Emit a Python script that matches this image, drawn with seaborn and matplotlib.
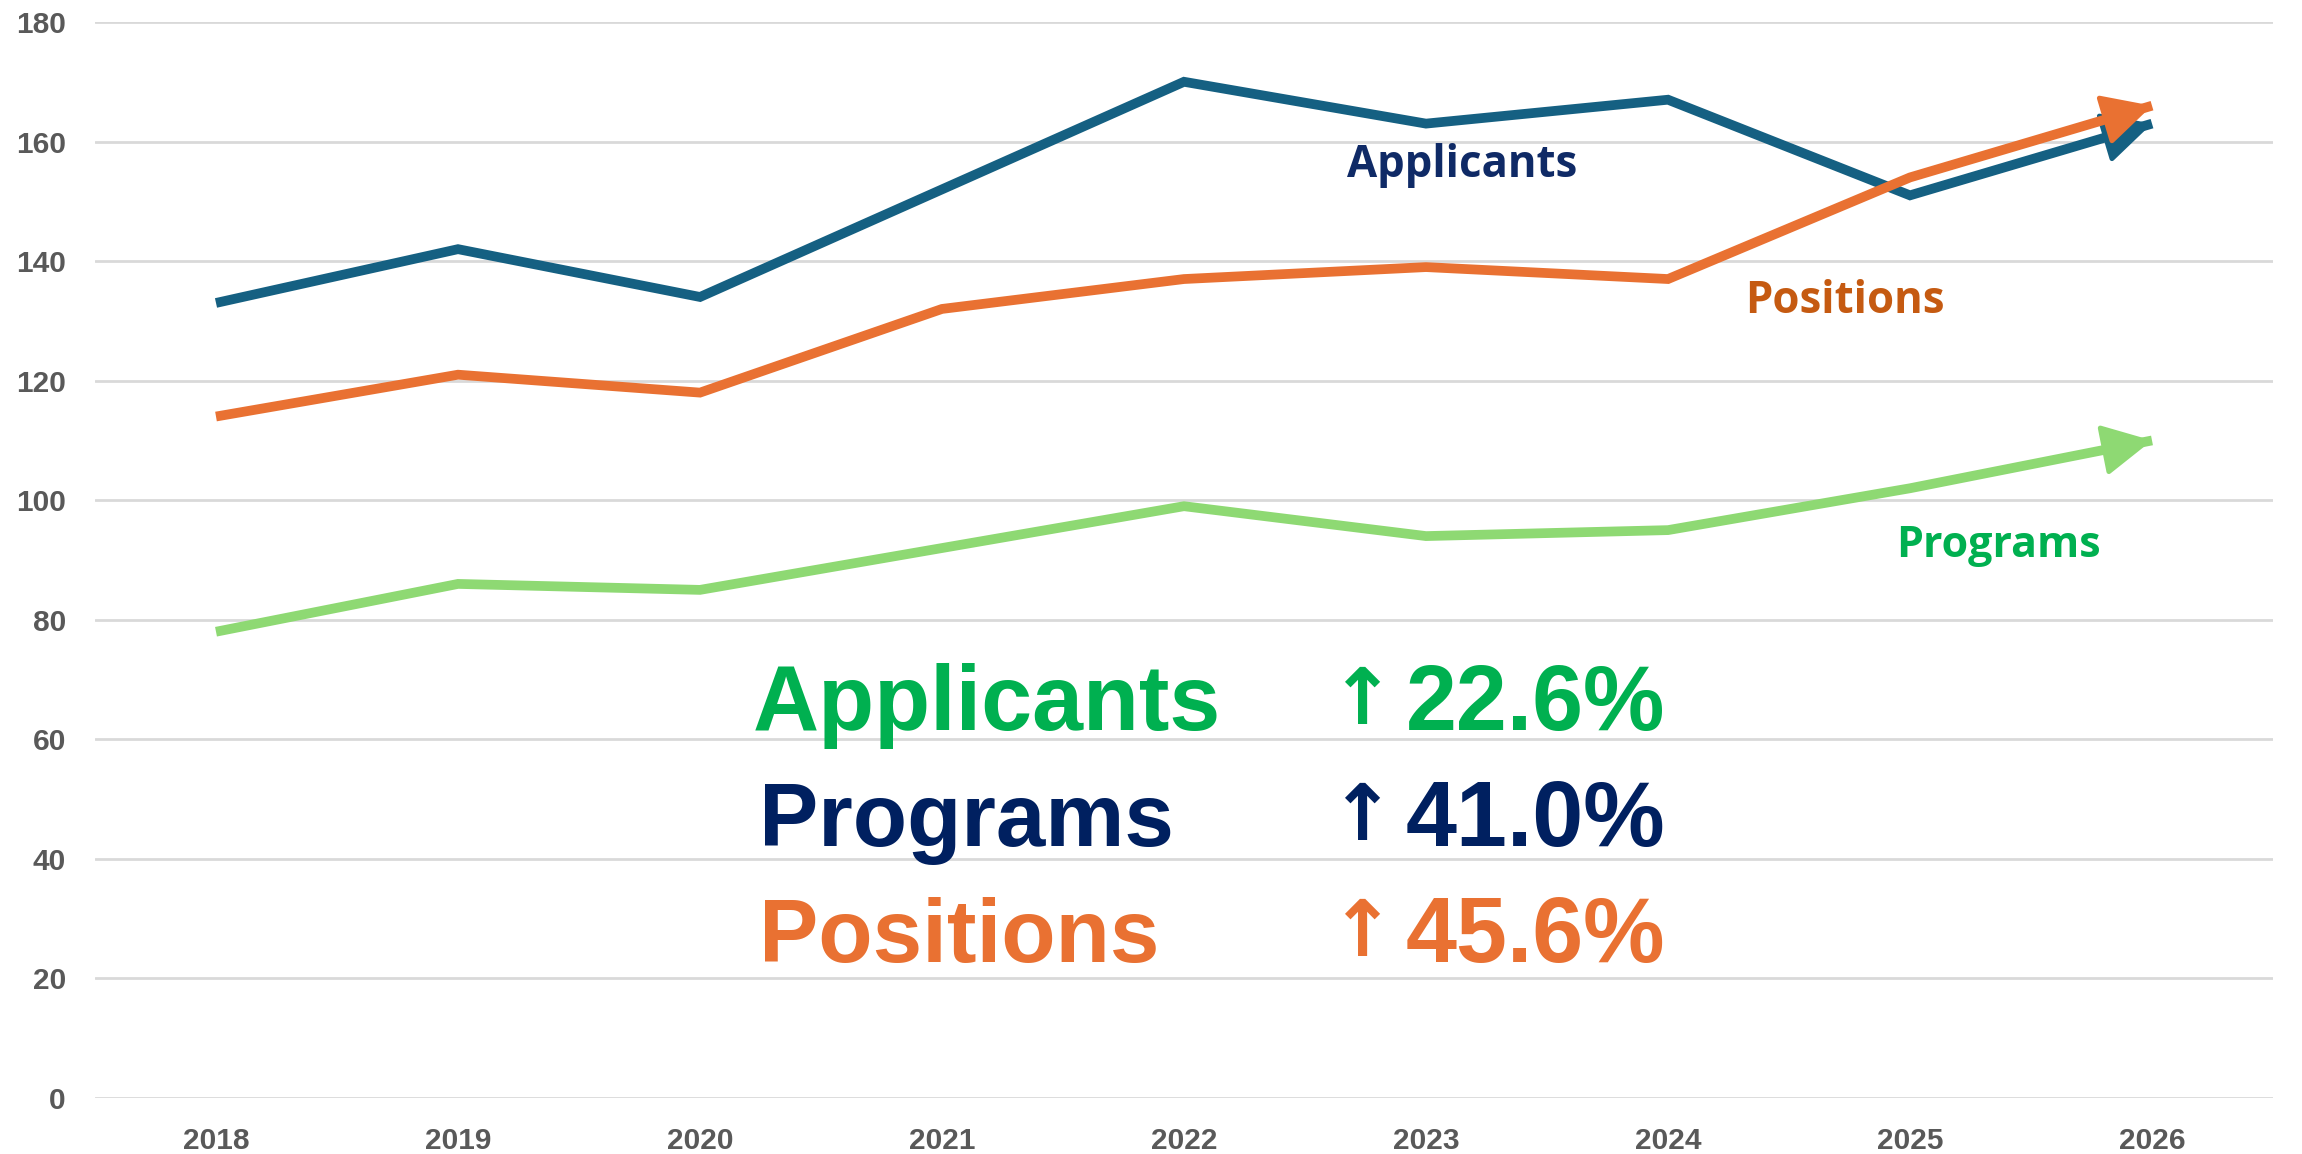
import matplotlib
matplotlib.use("Agg")
import matplotlib.pyplot as plt
import seaborn as sns
import pandas as pd

years = [2018, 2019, 2020, 2021, 2022, 2023, 2024, 2025, 2026]
applicants = [133, 142, 134, 152, 170, 163, 167, 151, 163]
positions = [114, 121, 118, 132, 137, 139, 137, 154, 166]
programs = [78, 86, 85, 92, 99, 94, 95, 102, 110]
y_ticks = [0, 20, 40, 60, 80, 100, 120, 140, 160, 180]

summary_names = ["Applicants", "Programs", "Positions"]
summary_pcts = ["22.6%", "41.0%", "45.6%"]

sns.set_theme(style="white")
plt.rcParams['font.family'] = ['Liberation Sans', 'DejaVu Sans']

c_app = "#156082"
c_pos = "#E97132"
c_prog = "#8ED973"

df = pd.DataFrame({"year": years, "Applicants": applicants,
                   "Positions": positions, "Programs": programs})
long = df.melt(id_vars="year", var_name="series", value_name="value")

fig = plt.figure(figsize=(23.02, 11.54), dpi=100)
ax = fig.add_axes([95 / 2302, 56 / 1154, (2273 - 95) / 2302, (1098 - 22) / 1154])

lw = 7
z = 2
for name, col in [("Programs", c_prog), ("Applicants", c_app), ("Positions", c_pos)]:
    sub = long[long["series"] == name]
    sns.lineplot(data=sub, x="year", y="value", color=col, lw=lw, ax=ax,
                 legend=False, solid_capstyle="butt", solid_joinstyle="miter",
                 zorder=z)
    vals = sub["value"].tolist()
    x0, x1 = years[-2], years[-1]
    y0, y1 = vals[-2], vals[-1]
    t = 0.6
    ax.annotate("", xy=(x1, y1), xytext=(x0 + t * (x1 - x0), y0 + t * (y1 - y0)),
                arrowprops=dict(arrowstyle="-|>,head_length=1.55,head_width=0.8",
                                color=col, lw=3.5, mutation_scale=20,
                                shrinkA=0, shrinkB=0, joinstyle="round",
                                capstyle="round"), zorder=z + 0.5)
    z += 1

ax.set_xlim(2017.5, 2026.5)
ax.set_ylim(0, 180)
ax.set_xticks(years)
ax.set_xticklabels([str(y) for y in years])
ax.set_yticks(y_ticks)
ax.set_xlabel("")
ax.set_ylabel("")
ax.grid(axis="y", color="#D9D9D9", lw=2)
ax.grid(axis="x", visible=False)
ax.set_axisbelow(True)
for s in ax.spines.values():
    s.set_visible(False)
ax.tick_params(axis="both", length=0, labelsize=21.5, labelcolor="#595959")
ax.tick_params(axis="y", pad=21)
ax.tick_params(axis="x", pad=21)
for lab in ax.get_xticklabels() + ax.get_yticklabels():
    lab.set_fontweight("bold")

# in-chart series labels
lbl_font = ['Open Sans', 'DejaVu Sans']
fig.text(1462 / 2302, 1 - 177 / 1154, "Applicants", color="#0F2A66", fontsize=31.5,
         fontweight="bold", ha="center", va="baseline", family=lbl_font)
fig.text(1845 / 2302, 1 - 313 / 1154, "Positions", color="#C55A11", fontsize=31.5,
         fontweight="bold", ha="center", va="baseline", family=lbl_font)
fig.text(1998 / 2302, 1 - 557 / 1154, "Programs", color="#00B050", fontsize=31,
         fontweight="bold", ha="center", va="baseline", family=lbl_font)

# summary block
colors = ["#00B050", "#002060", "#E97132"]
baselines = [730, 846, 962]
lefts = [753, 759, 759]
sizes = [66, 64, 64]
for name, pct, col, b, l, fs in zip(summary_names, summary_pcts, colors, baselines, lefts, sizes):
    yb = 1 - b / 1154
    fig.text(l / 2302, yb, name, color=col, fontsize=fs, fontweight="bold",
             ha="left", va="baseline")
    fig.text(1330 / 2302, yb + 6 / 1154, "↑", color=col, fontsize=56, fontweight="bold",
             ha="left", va="baseline", family=['DejaVu Sans'])
    fig.text(1406 / 2302, yb, pct, color=col, fontsize=66, fontweight="bold",
             ha="left", va="baseline")

fig.savefig("out.png", dpi=100, facecolor="white")
